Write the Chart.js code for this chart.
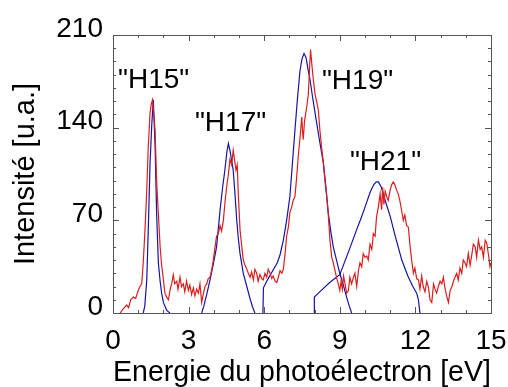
<!DOCTYPE html>
<html>
<head>
<meta charset="utf-8">
<script src="https://cdn.jsdelivr.net/npm/chart.js@4/dist/chart.umd.min.js"></script>
<style>
  html, body { margin: 0; padding: 0; background: #fff; }
  #box { width: 508px; height: 387px; }
</style>
</head>
<body>
<div id="box"><canvas id="spectre"></canvas></div>
<script>

//Tick labels of both axes

const xTicks = [0, 3, 6, 9, 12, 15];
const yTicks = [0, 70, 140, 210];

//Red spectrum (energy in eV, intensity in a.u.)

const redEnergy = [
  0.28, 0.40, 0.54, 0.62, 0.70, 0.81, 0.90, 1.00, 1.07, 1.14, 1.20, 1.27, 1.34, 1.40, 1.47, 1.52,
  1.57, 1.62, 1.67, 1.73, 1.80, 1.87, 1.93, 1.97, 2.06, 2.13, 2.20, 2.27, 2.33, 2.39, 2.45, 2.53,
  2.58, 2.66, 2.72, 2.79, 2.85, 2.92, 2.99, 3.05, 3.12, 3.19, 3.25, 3.32, 3.39, 3.45, 3.52, 3.58,
  3.65, 3.72, 3.78, 3.85, 3.92, 3.98, 4.05, 4.11, 4.18, 4.25, 4.31, 4.38, 4.45, 4.51, 4.58, 4.64,
  4.71, 4.77, 4.82, 4.88, 4.93, 4.97, 5.04, 5.10, 5.17, 5.24, 5.31, 5.37, 5.44, 5.50, 5.57, 5.63,
  5.70, 5.76, 5.83, 5.90, 5.96, 6.03, 6.10, 6.16, 6.23, 6.30, 6.36, 6.43, 6.50, 6.56, 6.63, 6.70,
  6.76, 6.83, 6.89, 6.96, 7.02, 7.09, 7.15, 7.22, 7.29, 7.35, 7.42, 7.49, 7.52, 7.55, 7.60, 7.69,
  7.75, 7.80, 7.84, 7.88, 7.95, 8.02, 8.08, 8.15, 8.21, 8.28, 8.35, 8.41, 8.48, 8.54, 8.61, 8.68,
  8.74, 8.81, 8.88, 8.94, 9.00, 9.05, 9.10, 9.15, 9.20, 9.27, 9.34, 9.40, 9.47, 9.54, 9.60, 9.67,
  9.74, 9.80, 9.87, 9.93, 10.00, 10.07, 10.13, 10.20, 10.27, 10.33, 10.40, 10.46, 10.53, 10.60, 10.66, 10.70,
  10.75, 10.80, 10.86, 10.92, 11.00, 11.06, 11.12, 11.18, 11.25, 11.32, 11.38, 11.45, 11.52, 11.58, 11.65, 11.72,
  11.78, 11.85, 11.92, 11.98, 12.05, 12.12, 12.18, 12.25, 12.31, 12.38, 12.45, 12.52, 12.58, 12.65, 12.72, 12.78,
  12.84, 12.91, 12.98, 13.05, 13.11, 13.18, 13.25, 13.31, 13.38, 13.45, 13.51, 13.57, 13.64, 13.70, 13.77, 13.84,
  13.90, 13.97, 14.03, 14.10, 14.17, 14.23, 14.30, 14.37, 14.43, 14.50, 14.57, 14.63, 14.70, 14.77, 14.83, 14.90,
  14.96, 15.00
];
const redIntensity = [
  0, 3, 6, 4, 10, 12, 11, 17, 20, 22, 38, 63, 93, 126, 151, 158,
  161, 150, 138, 100, 75, 50, 36, 30, 15, 12, 10, 18, 22, 29, 22, 24,
  18, 27, 20, 22, 16, 24, 17, 21, 14, 19, 13, 18, 15, 22, 8, 14,
  20, 22, 26, 27, 33, 40, 50, 58, 60, 66, 62, 70, 85, 95, 105, 116,
  112, 123, 116, 108, 112, 91, 63, 52, 40, 36, 33, 30, 27, 31, 25, 33,
  30, 24, 29, 26, 25, 30, 27, 33, 30, 26, 28, 24, 23, 27, 32, 30,
  33, 45, 58, 65, 76, 80, 85, 88, 103, 118, 132, 148, 138, 131, 145, 156,
  165, 185, 199, 190, 176, 165, 160, 153, 138, 125, 113, 100, 88, 75, 55, 42,
  38, 32, 26, 22, 17, 24, 18, 28, 23, 15, 17, 27, 22, 27, 30, 20,
  32, 38, 35, 45, 42, 43, 40, 52, 48, 60, 58, 73, 80, 90, 78, 95,
  82, 92, 88, 85, 93, 97, 99, 97, 93, 90, 85, 78, 70, 74, 66, 65,
  52, 40, 30, 34, 26, 25, 18, 28, 20, 16, 24, 19, 10, 8, 22, 18,
  15, 20, 24, 22, 27, 18, 12, 8, 17, 20, 24, 27, 30, 25, 34, 30,
  40, 38, 35, 45, 36, 43, 52, 50, 42, 55, 48, 50, 42, 55, 53, 44,
  35, 38
];

//Blue spectrum, one piece per harmonic peak

const blueH15Energy = [1.20, 1.26, 1.34, 1.40, 1.47, 1.54, 1.60, 1.67, 1.73, 1.80, 1.87, 1.93, 2.00, 2.13, 2.26];
const blueH15Intensity = [0, 5, 25, 63, 113, 143, 161, 126, 76, 38, 24, 15, 8, 2, 0];

const blueH17Energy = [3.52, 3.60, 3.72, 3.85, 3.98, 4.11, 4.25, 4.35, 4.44, 4.52, 4.58, 4.65, 4.77, 4.84, 4.91, 4.98, 5.04, 5.17, 5.31, 5.45, 5.55, 5.63];
const blueH17Intensity = [0, 5, 14, 25, 37, 50, 78, 95, 108, 122, 128, 122, 108, 90, 70, 55, 45, 30, 20, 10, 4, 0];

const blueH19Energy = [5.95, 5.97, 6.10, 6.25, 6.40, 6.52, 6.63, 6.76, 6.89, 7.02, 7.12, 7.22, 7.32, 7.42, 7.50, 7.58, 7.66, 7.74, 7.82, 7.92, 8.02, 8.18, 8.35, 8.45, 8.54, 8.64, 8.74, 8.87, 9.00, 9.14, 9.27, 9.38, 9.47];
const blueH19Intensity = [0, 19, 24, 29, 34, 38, 44, 55, 70, 88, 113, 138, 162, 183, 192, 196, 193, 184, 176, 163, 151, 132, 113, 95, 76, 62, 50, 40, 30, 21, 12, 5, 0];

const blueH21Energy = [7.98, 7.99, 8.15, 8.37, 8.60, 8.80, 9.00, 9.20, 9.40, 9.67, 9.85, 10.00, 10.20, 10.35, 10.45, 10.53, 10.65, 10.80, 11.00, 11.20, 11.46, 11.70, 11.90, 12.05, 12.12, 12.18];
const blueH21Intensity = [0, 12, 15, 19, 23, 26, 29, 39, 49, 63, 72, 80, 91, 97, 99, 99, 95, 85, 73, 58, 40, 28, 20, 15, 10, 0];

//Peak names written on the chart

const peakNames = ['"H15"', '"H17"', '"H19"', '"H21"'];

//Where each name sits (left edge, baseline) in axis units

const nameAnchors = [[0.2, 170], [3.25, 137.5], [8.29, 169], [9.4, 108]];

const RED = "#dc1e1e";
const BLUE = "#1414a8";
const FRAME = "#555555";
const FONT = "'Liberation Sans', Arial, sans-serif";

function toPoints(xs, ys){

    return xs.map(function(x, i){

        return { x: x, y: ys[i] };

    });

}

function line(xs, ys, colour){

    return {
        data: toPoints(xs, ys),
        borderColor: colour,
        borderWidth: 1.2,
        pointRadius: 0,
        tension: 0,
        fill: false
    };

}

//Plugin for the frame with inward ticks and the peak names

const framePlugin = {

    id: "frame",

    afterDatasetsDraw: function(chart){

        const ctx = chart.ctx;
        const a = chart.chartArea;
        const xs = chart.scales.x;
        const ys = chart.scales.y;

        ctx.save();
        ctx.strokeStyle = FRAME;
        ctx.lineWidth = 1;
        ctx.strokeRect(Math.round(a.left) + 0.5, Math.round(a.top) + 0.5,
            Math.round(a.right - a.left), Math.round(a.bottom - a.top));

        ctx.beginPath();

        for(let v = 0; v <= 15; v++){

            const px = Math.round(xs.getPixelForValue(v)) + 0.5;
            const len = v % 3 === 0 ? 6 : 3;
            ctx.moveTo(px, a.bottom);
            ctx.lineTo(px, a.bottom - len);
            ctx.moveTo(px, a.top);
            ctx.lineTo(px, a.top + len);

        }

        for(let v = 0; v <= 210; v += 10){

            const py = Math.round(ys.getPixelForValue(v)) + 0.5;
            const len = v % 70 === 0 ? 6 : 3;
            ctx.moveTo(a.left, py);
            ctx.lineTo(a.left + len, py);
            ctx.moveTo(a.right, py);
            ctx.lineTo(a.right - len, py);

        }

        ctx.stroke();

        ctx.fillStyle = "#000";
        ctx.font = "28px " + FONT;
        ctx.textAlign = "left";
        ctx.textBaseline = "alphabetic";

        peakNames.forEach(function(name, i){

            ctx.fillText(name,
                xs.getPixelForValue(nameAnchors[i][0]),
                ys.getPixelForValue(nameAnchors[i][1]));

        });

        ctx.restore();

    }

};

new Chart(document.querySelector("#spectre"), {

    type: "line",

    data: {

        datasets: [
            line(redEnergy, redIntensity, RED),
            line(blueH15Energy, blueH15Intensity, BLUE),
            line(blueH17Energy, blueH17Intensity, BLUE),
            line(blueH19Energy, blueH19Intensity, BLUE),
            line(blueH21Energy, blueH21Intensity, BLUE)
        ]

    },

    options: {

        responsive: true,
        maintainAspectRatio: false,
        animation: false,
        events: [],

        layout: {
            padding: { top: 35, right: 17, left: 0, bottom: 0 }
        },

        plugins: {
            legend: { display: false },
            tooltip: { enabled: false }
        },

        scales: {

            x: {
                type: "linear",
                min: 0,
                max: 15,
                afterBuildTicks: function(scale){
                    scale.ticks = xTicks.map(function(v){ return { value: v }; });
                },
                afterFit: function(scale){
                    scale.height = 74;
                    scale.paddingLeft = 0;
                    scale.paddingRight = 0;
                },
                grid: { display: false, drawTicks: false },
                border: { display: false },
                ticks: {
                    color: "#000",
                    padding: 11,
                    maxRotation: 0,
                    font: { family: FONT, size: 28 }
                },
                title: {
                    display: true,
                    text: "Energie du photoélectron [eV]",
                    color: "#000",
                    padding: 0,
                    font: { family: FONT, size: 29, lineHeight: 1 }
                }
            },

            y: {
                type: "linear",
                min: 0,
                max: 210,
                afterBuildTicks: function(scale){
                    scale.ticks = yTicks.map(function(v){ return { value: v }; });
                },
                afterFit: function(scale){
                    scale.width = 113;
                    scale.paddingTop = 0;
                    scale.paddingBottom = 0;
                },
                grid: { display: false, drawTicks: false },
                border: { display: false },
                ticks: {
                    color: "#000",
                    padding: 10,
                    labelOffset: -6,
                    font: { family: FONT, size: 28 }
                },
                title: {
                    display: true,
                    text: "Intensité [u.a.]",
                    color: "#000",
                    padding: { top: 9, bottom: 0 },
                    font: { family: FONT, size: 29 }
                }
            }

        }

    },

    plugins: [framePlugin]

});

</script>
</body>
</html>
